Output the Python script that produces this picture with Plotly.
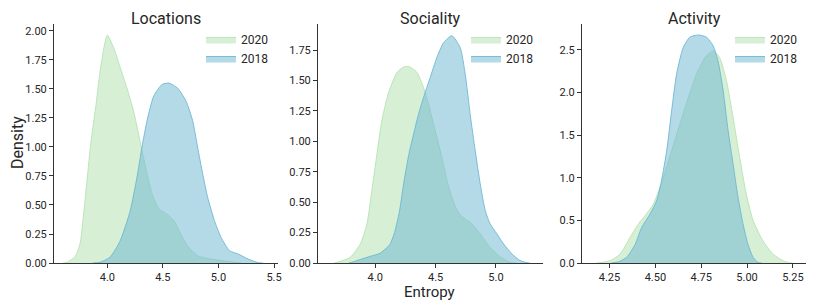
import plotly.graph_objects as go

# ---------------- data ----------------
panels = ["Locations", "Sociality", "Activity"]
years = ["2020", "2018"]

loc_x_2020 = [3.60, 3.635, 3.71, 3.755, 3.784, 3.815, 3.844, 3.87, 3.90, 3.93, 3.97, 4.00, 4.055, 4.115,
              4.176, 4.236, 4.282, 4.312, 4.358, 4.403, 4.464, 4.539, 4.60, 4.66, 4.72, 4.812, 4.933,
              5.085, 5.206]
loc_d_2020 = [0.0, 0.005, 0.055, 0.17, 0.40, 0.69, 0.97, 1.17, 1.38, 1.62, 1.86, 1.965, 1.86, 1.69,
              1.51, 1.31, 1.11, 0.97, 0.77, 0.595, 0.466, 0.42, 0.365, 0.25, 0.15, 0.063, 0.034,
              0.014, 0.0]
loc_x_2018 = [3.87, 3.933, 4.024, 4.115, 4.206, 4.267, 4.312, 4.358, 4.418, 4.494, 4.555, 4.63, 4.706,
              4.767, 4.812, 4.858, 4.903, 4.964, 5.024, 5.10, 5.176, 5.267, 5.358, 5.40]
loc_d_2018 = [0.0, 0.006, 0.05, 0.19, 0.45, 0.74, 1.0, 1.23, 1.44, 1.54, 1.55, 1.51, 1.40,
              1.23, 1.0, 0.77, 0.566, 0.365, 0.22, 0.106, 0.078, 0.034, 0.003, 0.0]

soc_x_2020 = [3.66, 3.70, 3.793, 3.876, 3.931, 3.972, 4.014, 4.055, 4.11, 4.18, 4.23, 4.276, 4.345, 4.40,
              4.442, 4.483, 4.525, 4.566, 4.60, 4.64, 4.68, 4.72, 4.79, 4.83, 4.87, 4.95, 5.04,
              5.12, 5.17]
soc_d_2020 = [0.0, 0.01, 0.047, 0.156, 0.32, 0.595, 0.896, 1.17, 1.40, 1.565, 1.608, 1.616, 1.567, 1.444,
              1.307, 1.142, 0.978, 0.81, 0.66, 0.53, 0.43, 0.38, 0.33, 0.29, 0.24, 0.13, 0.047,
              0.005, 0.0]
soc_x_2018 = [3.78, 3.82, 3.88, 3.96, 4.04, 4.12, 4.16, 4.20, 4.24, 4.28, 4.318, 4.359, 4.40, 4.456,
              4.511, 4.566, 4.635, 4.704, 4.746, 4.787, 4.829, 4.87, 4.912, 4.953, 5.008, 5.064,
              5.133, 5.20, 5.257, 5.28]
soc_d_2018 = [0.0, 0.01, 0.03, 0.055, 0.08, 0.15, 0.25, 0.42, 0.68, 0.90, 1.06, 1.225, 1.36, 1.526,
              1.69, 1.81, 1.868, 1.77, 1.55, 1.22, 0.92, 0.65, 0.43, 0.32, 0.24, 0.156,
              0.074, 0.02, 0.003, 0.0]

act_x_2020 = [4.18, 4.20, 4.254, 4.308, 4.362, 4.408, 4.444, 4.489, 4.543, 4.589, 4.634, 4.679, 4.725,
              4.77, 4.815, 4.851, 4.888, 4.924, 4.96, 4.996, 5.033, 5.087, 5.141, 5.196, 5.232, 5.25]
act_d_2020 = [0.0, 0.005, 0.027, 0.106, 0.30, 0.46, 0.556, 0.69, 1.0, 1.32, 1.63, 1.94, 2.22,
              2.41, 2.49, 2.41, 2.14, 1.71, 1.24, 0.81, 0.50, 0.26, 0.106, 0.027, 0.003, 0.0]
act_x_2018 = [4.26, 4.30, 4.344, 4.39, 4.426, 4.471, 4.507, 4.534, 4.562, 4.589, 4.616, 4.652, 4.688,
              4.734, 4.779, 4.815, 4.842, 4.87, 4.897, 4.924, 4.951, 4.978, 5.005, 5.033, 5.06, 5.08]
act_d_2018 = [0.0, 0.015, 0.067, 0.22, 0.42, 0.575, 0.73, 0.97, 1.32, 1.79, 2.22, 2.53, 2.65,
              2.676, 2.65, 2.55, 2.37, 2.02, 1.55, 1.16, 0.77, 0.46, 0.22, 0.067, 0.005, 0.0]

x_ticks = [[4.0, 4.5, 5.0, 5.5], [4.0, 4.5, 5.0], [4.25, 4.50, 4.75, 5.00, 5.25]]
x_ticklabels = [["4.0", "4.5", "5.0", "5.5"], ["4.0", "4.5", "5.0"],
                ["4.25", "4.50", "4.75", "5.00", "5.25"]]
y_ticks = [[0, 0.25, 0.5, 0.75, 1.0, 1.25, 1.5, 1.75, 2.0],
           [0, 0.25, 0.5, 0.75, 1.0, 1.25, 1.5, 1.75],
           [0, 0.5, 1.0, 1.5, 2.0, 2.5]]
y_ticklabels = [["0.00", "0.25", "0.50", "0.75", "1.00", "1.25", "1.50", "1.75", "2.00"],
                ["0.00", "0.25", "0.50", "0.75", "1.00", "1.25", "1.50", "1.75"],
                ["0.0", "0.5", "1.0", "1.5", "2.0", "2.5"]]

series = [
    [(loc_x_2020, loc_d_2020), (loc_x_2018, loc_d_2018)],
    [(soc_x_2020, soc_d_2020), (soc_x_2018, soc_d_2018)],
    [(act_x_2020, act_d_2020), (act_x_2018, act_d_2018)],
]

# ---------------- styling / layout ----------------
# the page body has an 8px margin, so the figure is drawn 8px in from the window's corner
OFF = 8
WIN_W, WIN_H = 814, 305
W, H = WIN_W - OFF, WIN_H - OFF
FONT = "Roboto"
TXT = "#262626"
fills = {"2020": "rgba(173,223,171,0.5)", "2018": "rgba(105,181,209,0.5)"}
lines = {"2020": "rgba(173,223,171,0.75)", "2018": "rgba(105,181,209,0.85)"}


def px_x(p):
    return (p - OFF) / W


def px_y(p):
    return 1 - (p - OFF) / H


x_px = [(54, 278), (318, 543), (582, 807)]
y_px = (24, 263)
x_ranges = [[3.52, 5.536], [3.526, 5.39], [4.10, 5.327]]
y_ranges = [[0, 2.06], [0, 1.964], [0, 2.805]]

fig = go.Figure()
for i in range(3):
    ax = "" if i == 0 else str(i + 1)
    for j, yr in enumerate(years):
        xs, ds = series[i][j]
        fig.add_trace(go.Scatter(
            x=xs, y=ds, mode="lines", name=yr,
            line=dict(color=lines[yr], width=1, shape="spline", smoothing=0.6),
            fill="tozeroy", fillcolor=fills[yr], xaxis="x" + ax, yaxis="y" + ax,
            legend="legend" + ax, showlegend=True, hoverinfo="skip"))

    axis_common = dict(showgrid=False, zeroline=False, showline=True, linecolor="#333333", linewidth=1,
                       ticks="outside", ticklen=4, tickwidth=1, tickcolor="#333333",
                       tickfont=dict(family=FONT, size=11, color=TXT), automargin=False)
    fig.layout["xaxis" + ax] = dict(axis_common, domain=[px_x(x_px[i][0]), px_x(x_px[i][1])],
                                    range=x_ranges[i], tickvals=x_ticks[i], ticktext=x_ticklabels[i],
                                    anchor="y" + ax)
    fig.layout["yaxis" + ax] = dict(axis_common, domain=[px_y(y_px[1]), px_y(y_px[0])],
                                    range=y_ranges[i], tickvals=y_ticks[i], ticktext=y_ticklabels[i],
                                    anchor="x" + ax)
    fig.layout["legend" + ax] = dict(x=px_x(x_px[i][1] - 77), y=px_y(25), xanchor="left", yanchor="top",
                                     bgcolor="rgba(0,0,0,0)", font=dict(family=FONT, size=12, color=TXT),
                                     itemwidth=30, tracegroupgap=0)
    fig.add_annotation(text=panels[i], x=px_x((x_px[i][0] + x_px[i][1]) / 2), y=1,
                       xref="paper", yref="paper", showarrow=False, xanchor="center", yanchor="top",
                       font=dict(family=FONT, size=16, color=TXT), borderpad=0)

fig.add_annotation(text="Density", x=px_x(17), y=px_y(143), xref="paper", yref="paper", showarrow=False,
                   textangle=-90, xanchor="center", yanchor="middle", font=dict(family=FONT, size=16, color=TXT),
                   borderpad=0)
fig.add_annotation(text="Entropy", x=px_x(430), y=px_y(292), xref="paper", yref="paper", showarrow=False,
                   xanchor="center", yanchor="middle", font=dict(family=FONT, size=15, color=TXT),
                   borderpad=0)

fig.update_layout(width=W, height=H, margin=dict(l=0, r=0, t=0, b=0), plot_bgcolor="white",
                  paper_bgcolor="white", font=dict(family=FONT, color=TXT))
fig.write_html("out.html")
